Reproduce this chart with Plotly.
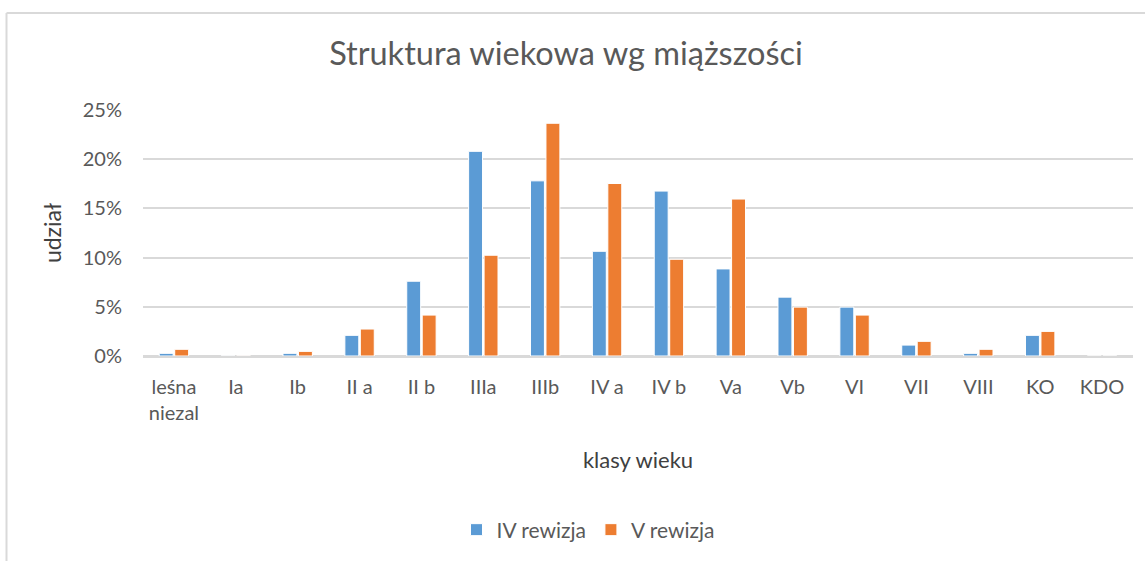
import plotly.graph_objects as go

categories = ["leśna<br>niezal", "Ia", "Ib", "II a", "II b", "IIIa", "IIIb", "IV a",
              "IV b", "Va", "Vb", "VI", "VII", "VIII", "KO", "KDO"]
rev_iv = [0.0027, 0.0001, 0.0027, 0.021, 0.076, 0.208, 0.178, 0.1064,
          0.1676, 0.0885, 0.0598, 0.0497, 0.0111, 0.0027, 0.021, 0.0]
rev_v = [0.0068, 0.0001, 0.0047, 0.0274, 0.0416, 0.1024, 0.2365, 0.1753,
         0.0983, 0.1595, 0.0497, 0.0416, 0.0149, 0.0068, 0.025, 0.0]
series_names = ["IV rewizja", "V rewizja"]
colors = ["#5B9BD5", "#ED7D31"]

FONT = "Lato"
GREY = "#595959"

fig = go.Figure()
for name, vals, col in zip(series_names, [rev_iv, rev_v], colors):
    fig.add_trace(go.Bar(
        x=categories, y=vals, name=name,
        marker=dict(color=col, line=dict(color="white", width=1)),
    ))

W, H = 1145, 561
ml, mr, mt, mb = 143, 12, 110, 204
pw, ph = W - ml - mr, H - mt - mb

def px_x(x):
    return (x - ml) / pw

def px_y(y):
    return (357 - y) / ph

BORDER = "#D9D9D9"
fig.update_layout(
    width=W, height=H,
    margin=dict(l=ml, r=mr, t=mt, b=mb),
    paper_bgcolor="white", plot_bgcolor="white",
    barmode="group", bargap=0.5, bargroupgap=0.1,
    font=dict(family=FONT, color=GREY, size=20),
    title=dict(text="Struktura wiekowa wg miąższości", x=566 / W, xref="container",
               xanchor="center", y=1 - 54 / H, yanchor="middle",
               font=dict(family=FONT, size=32.5, color=GREY)),
    showlegend=True,
    legend=dict(orientation="h", x=px_x(588), xanchor="center",
                y=px_y(530), yanchor="middle",
                font=dict(size=21, color=GREY), itemwidth=30,
                traceorder="normal"),
    xaxis=dict(
        showgrid=False, showline=True, linecolor="#D9D9D9", linewidth=1.5,
        ticks="", tickfont=dict(size=20, color=GREY), ticklabelstandoff=12,
        title=dict(text="klasy wieku", font=dict(size=22, color="#404040"), standoff=30),
    ),
    yaxis=dict(
        range=[0, 0.25], dtick=0.05, tickformat=".0%",
        showgrid=True, gridcolor="#D9D9D9", gridwidth=1.5,
        zeroline=True, zerolinecolor="#D9D9D9", zerolinewidth=1.5,
        tickfont=dict(size=20, color=GREY), ticklabelstandoff=20,
        title=dict(text="udział", font=dict(size=23, color="#404040"), standoff=14),
    ),
    shapes=[
        dict(type="line", xref="paper", yref="paper",
             x0=px_x(6.5), x1=px_x(W + 5), y0=px_y(12.5), y1=px_y(12.5),
             line=dict(color=BORDER, width=2), layer="below"),
        dict(type="line", xref="paper", yref="paper",
             x0=px_x(6.5), x1=px_x(6.5), y0=px_y(12.5), y1=px_y(H + 5),
             line=dict(color=BORDER, width=2), layer="below"),
    ],
)

fig.write_html("out.html", config={"displayModeBar": False},
               post_script="document.body.style.margin='0';")
